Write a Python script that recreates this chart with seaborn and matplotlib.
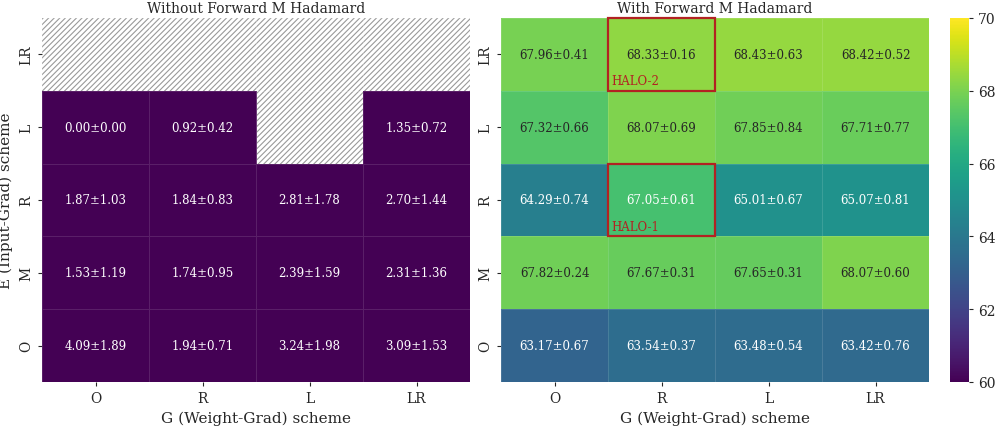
import numpy as np
import pandas as pd
import matplotlib
matplotlib.use("Agg")
import matplotlib.pyplot as plt
import seaborn as sns
from matplotlib.patches import Rectangle

# rows top to bottom, columns left to right
e_schemes = ["LR", "L", "R", "M", "O"]
g_schemes = ["O", "R", "L", "LR"]

no_had_mean = [[np.nan, np.nan, np.nan, np.nan],
               [0.00, 0.92, np.nan, 1.35],
               [1.87, 1.84, 2.81, 2.70],
               [1.53, 1.74, 2.39, 2.31],
               [4.09, 1.94, 3.24, 3.09]]
no_had_std = [[np.nan, np.nan, np.nan, np.nan],
              [0.00, 0.42, np.nan, 0.72],
              [1.03, 0.83, 1.78, 1.44],
              [1.19, 0.95, 1.59, 1.36],
              [1.89, 0.71, 1.98, 1.53]]

had_mean = [[67.96, 68.33, 68.43, 68.42],
            [67.32, 68.07, 67.85, 67.71],
            [64.29, 67.05, 65.01, 65.07],
            [67.82, 67.67, 67.65, 68.07],
            [63.17, 63.54, 63.48, 63.42]]
had_std = [[0.41, 0.16, 0.63, 0.52],
           [0.66, 0.69, 0.84, 0.77],
           [0.74, 0.61, 0.67, 0.81],
           [0.24, 0.31, 0.31, 0.60],
           [0.67, 0.37, 0.54, 0.76]]

# highlighted cells: (row, col, label)
halo = [("LR", "R", "HALO-2"), ("R", "R", "HALO-1")]


def make_labels(mean, std):
    out = []
    for mrow, srow in zip(mean, std):
        out.append(["" if np.isnan(m) else f"{m:.2f}±{s:.2f}" for m, s in zip(mrow, srow)])
    return np.array(out)


sns.set_style("white")
plt.rcParams['font.family'] = ['DejaVu Serif']
plt.rcParams['hatch.linewidth'] = 0.8

fig = plt.figure(figsize=(9.97, 4.27), dpi=100)
ax1 = fig.add_axes([42 / 997, 44 / 427, 428 / 997, 364 / 427])
ax2 = fig.add_axes([501 / 997, 44 / 427, 428 / 997, 364 / 427])
cax = fig.add_axes([950 / 997, 44 / 427, 19 / 997, 364 / 427])

df1 = pd.DataFrame(no_had_mean, index=e_schemes, columns=g_schemes)
df2 = pd.DataFrame(had_mean, index=e_schemes, columns=g_schemes)

kw = dict(cmap="viridis", vmin=60, vmax=70, fmt="", linewidths=0.5,
          linecolor=(1, 1, 1, 0.12), annot_kws={"fontsize": 8.5})

ax1.patch.set_facecolor("white")
ax1.patch.set_edgecolor("#999999")
ax1.patch.set_hatch("//////")
ax1.patch.set_linewidth(0)

sns.heatmap(df1, ax=ax1, annot=make_labels(no_had_mean, no_had_std), cbar=False, **kw)
sns.heatmap(df2, ax=ax2, annot=make_labels(had_mean, had_std), cbar_ax=cax, **kw)

for ax, title in [(ax1, "Without Forward M Hadamard"), (ax2, "With Forward M Hadamard")]:
    ax.set_title(title, fontsize=10, pad=4)
    ax.set_xlabel("G (Weight-Grad) scheme", fontsize=11)
    ax.tick_params(axis="both", length=3, labelsize=10, left=True, bottom=True)
    ax.set_yticklabels(e_schemes, rotation=90, va="center")
    ax.set_xticklabels(g_schemes, rotation=0)
ax1.set_ylabel("E (Input-Grad) scheme", fontsize=11)
ax2.set_ylabel("")

for r, c, lab in halo:
    i = e_schemes.index(r)
    j = g_schemes.index(c)
    ax2.add_patch(Rectangle((j, i), 1, 1, fill=False, edgecolor="#b22222", lw=1.6, clip_on=False))
    ax2.text(j + 0.03, i + 0.95, lab, color="#b22222", fontsize=8.5, ha="left", va="bottom")

cax.tick_params(labelsize=10, length=3)
cax.set_yticks([60, 62, 64, 66, 68, 70])

plt.savefig("out.png", dpi=100)
plt.close()
